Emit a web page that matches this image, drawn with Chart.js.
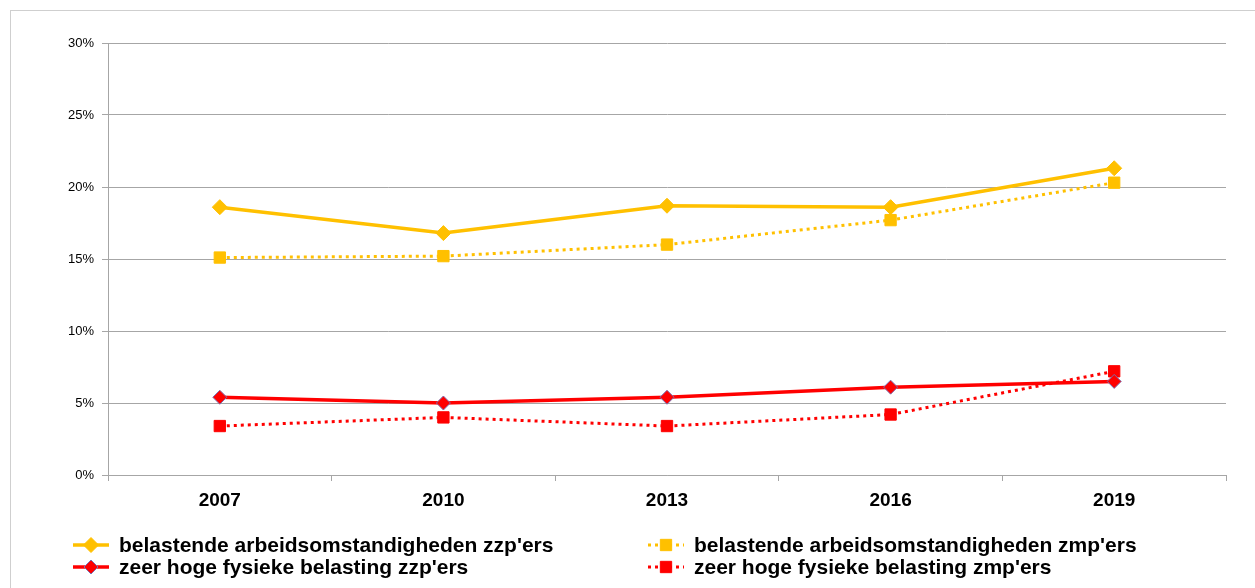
<!DOCTYPE html>
<html>
<head>
<meta charset="utf-8">
<script src="https://cdn.jsdelivr.net/npm/chart.js@4/dist/chart.umd.min.js"></script>
<style>
  html, body { margin: 0; padding: 0; background: #fff; }
  #wrap { width: 1255px; height: 588px; }
</style>
</head>
<body>
<div id="wrap"><canvas id="lineChart" width="1255" height="588"></canvas></div>
<script>
const years = ['2007', '2010', '2013', '2016', '2019'];
const belastendZzp = [18.6, 16.8, 18.7, 18.6, 21.3];
const belastendZmp = [15.1, 15.2, 16.0, 17.7, 20.3];
const fysiekZzp = [5.4, 5.0, 5.4, 6.1, 6.5];
const fysiekZmp = [3.4, 4.0, 3.4, 4.2, 7.2];
const seriesNames = [
    "belastende arbeidsomstandigheden zzp'ers",
    "belastende arbeidsomstandigheden zmp'ers",
    "zeer hoge fysieke belasting zzp'ers",
    "zeer hoge fysieke belasting zmp'ers"
];

const colorYellow = '#FFC000';
const colorRed = '#FF0000';
const colorGrid = '#a6a6a6';

// outer frame around the whole chart
const framePlugin = {
    id: 'frame',
    beforeDraw(chart) {
        const ctx = chart.ctx;
        ctx.save();
        ctx.strokeStyle = '#cfcfcf';
        ctx.lineWidth = 1;
        ctx.strokeRect(10.5, 10.5, 1300, 700);
        ctx.restore();
    }
};

// legend in two columns under the plot
const legendPlugin = {
    id: 'twoColLegend',
    afterDraw(chart) {
        const ctx = chart.ctx;
        const spots = [[73, 545], [648, 545], [73, 567], [648, 567]];
        chart.data.datasets.forEach((ds, i) => {
            const [x, y] = spots[i];
            ctx.save();
            ctx.strokeStyle = ds.borderColor;
            ctx.lineWidth = ds.borderWidth;
            ctx.setLineDash(ds.borderDash || []);
            ctx.beginPath();
            ctx.moveTo(x, y);
            ctx.lineTo(x + 36, y);
            ctx.stroke();
            ctx.restore();

            ctx.save();
            ctx.fillStyle = ds.pointBackgroundColor;
            ctx.strokeStyle = ds.pointBorderColor;
            ctx.lineWidth = ds.pointBorderWidth;
            Chart.helpers.drawPoint(ctx, {
                pointStyle: ds.pointStyle,
                radius: ds.pointRadius,
                borderWidth: ds.pointBorderWidth
            }, x + 18, y);
            ctx.fillStyle = '#000';
            ctx.font = 'bold 21px "Liberation Sans", Arial, sans-serif';
            ctx.textBaseline = 'middle';
            ctx.fillText(ds.label, x + 46, y + 1);
            ctx.restore();
        });
    }
};

const chartData = {
    type: 'line',
    data: {
        labels: years,
        datasets: [{
            label: seriesNames[0],
            data: belastendZzp,
            borderColor: colorYellow,
            borderWidth: 3.5,
            pointStyle: 'rectRot',
            pointRadius: 7.5,
            pointBackgroundColor: colorYellow,
            pointBorderColor: colorYellow,
            pointBorderWidth: 1
        }, {
            label: seriesNames[1],
            data: belastendZmp,
            borderColor: colorYellow,
            borderWidth: 3,
            borderDash: [3, 4],
            pointStyle: 'rect',
            pointRadius: 8,
            pointBackgroundColor: colorYellow,
            pointBorderColor: colorYellow,
            pointBorderWidth: 1
        }, {
            label: seriesNames[2],
            data: fysiekZzp,
            borderColor: colorRed,
            borderWidth: 3.5,
            pointStyle: 'rectRot',
            pointRadius: 7,
            pointBackgroundColor: colorRed,
            pointBorderColor: '#7b6fb0',
            pointBorderWidth: 1
        }, {
            label: seriesNames[3],
            data: fysiekZmp,
            borderColor: colorRed,
            borderWidth: 3,
            borderDash: [3, 4],
            pointStyle: 'rect',
            pointRadius: 8,
            pointBackgroundColor: colorRed,
            pointBorderColor: colorRed,
            pointBorderWidth: 1
        }]
    },
    options: {
        responsive: false,
        animation: false,
        devicePixelRatio: 1,
        layout: {
            padding: { left: 0, top: 43, right: 29, bottom: 73 }
        },
        plugins: {
            legend: { display: false },
            tooltip: { enabled: false }
        },
        scales: {
            x: {
                offset: true,
                grid: {
                    offset: true,
                    drawOnChartArea: false,
                    drawTicks: true,
                    tickLength: 6,
                    color: colorGrid
                },
                border: { color: colorGrid, width: 1 },
                ticks: {
                    color: '#000',
                    padding: 8,
                    font: { family: '"Liberation Sans", Arial, sans-serif', size: 19, weight: 'bold' }
                },
                afterFit(scale) { scale.height = 40; }
            },
            y: {
                min: 0,
                max: 30,
                grid: {
                    color: colorGrid,
                    tickLength: 6,
                    drawTicks: true
                },
                border: { color: colorGrid, width: 1 },
                ticks: {
                    stepSize: 5,
                    color: '#000',
                    padding: 8,
                    font: { family: '"Liberation Sans", Arial, sans-serif', size: 13 },
                    callback: (v) => v + '%'
                },
                afterFit(scale) { scale.width = 108; }
            }
        }
    },
    plugins: [framePlugin, legendPlugin]
};

const lineChart = new Chart(document.getElementById('lineChart'), chartData);
</script>
</body>
</html>
